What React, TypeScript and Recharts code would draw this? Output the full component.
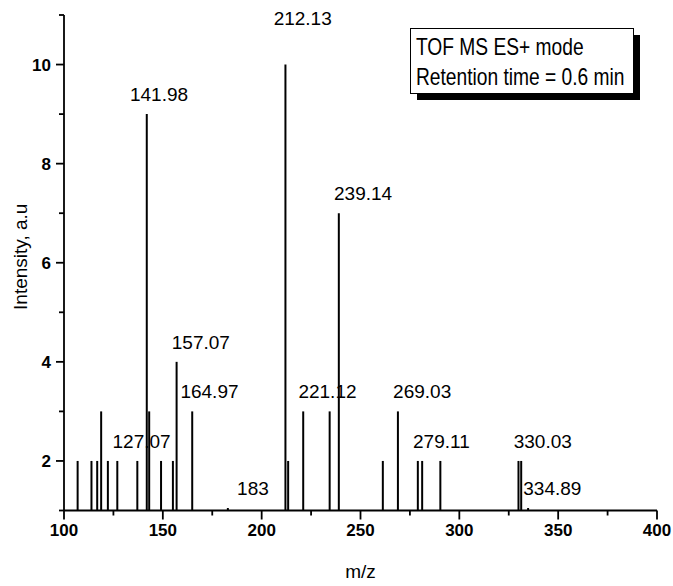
import { ComposedChart, Bar, Scatter, XAxis, YAxis } from 'recharts';

// Peak list: m/z and relative intensity (baseline of the plot is 1)
const PEAK_MZ = [
  107.0, 114.0, 116.9, 118.9, 122.3, 127.07, 137.2, 141.98, 143.2, 149.2,
  155.2, 157.07, 164.97, 183, 212.13, 213.5, 221.12, 234.5, 239.14, 261.4,
  269.03, 279.11, 281.3, 290.5, 330.03, 331.4, 334.89,
];
const PEAK_INTENSITY = [
  2, 2, 2, 3, 2, 2, 2, 9, 3, 2,
  2, 4, 3, 1.05, 10, 2, 3, 3, 7, 2,
  3, 2, 2, 2, 2, 2, 1.05,
];

// Annotated peaks
const LABEL_MZ = [127.07, 141.98, 157.07, 164.97, 183, 212.13, 221.12, 239.14, 269.03, 279.11, 330.03, 334.89];
const LABEL_TEXT = ['127.07', '141.98', '157.07', '164.97', '183', '212.13', '221.12', '239.14', '269.03', '279.11', '330.03', '334.89'];

const X_TICKS = [100, 125, 150, 175, 200, 225, 250, 275, 300, 325, 350, 375, 400];
const Y_TICKS = [1, 2, 3, 4, 5, 6, 7, 8, 9, 10, 11];

const INFO_LINES = ['TOF MS ES+ mode', 'Retention time = 0.6 min'];

const BASELINE = 1;

const peaks = PEAK_MZ.map((mz, i) => {
  const li = LABEL_MZ.indexOf(mz);
  return {
    mz,
    intensity: PEAK_INTENSITY[i],
    range: [BASELINE, PEAK_INTENSITY[i]],
    label: li >= 0 ? LABEL_TEXT[li] : null,
  };
});

const FONT = '"Liberation Sans", Arial, Helvetica, sans-serif';
const AXIS_STYLE = { stroke: '#000', strokeWidth: 1.8 };

// a few labels sit off the default spot so they don't collide
const LABEL_NUDGE: Record<string, [number, number]> = {
  '141.98': [-12, 0],
  '164.97': [-7, 0],
  '183': [14, 0],
  '212.13': [-7, -27],
};

function PeakLabel(props: any) {
  const { cx, cy, payload } = props;
  if (!payload || !payload.label) return <g />;
  const [dx, dy] = LABEL_NUDGE[payload.label] || [0, 0];
  return (
    <text x={cx - 5 + dx} y={cy - 13 + dy} fontSize={19} fontFamily={FONT} fill="#000" textAnchor="start">
      {payload.label}
    </text>
  );
}

function BottomTick({ x, y, payload }: any) {
  const major = payload.value % 50 === 0;
  return (
    <g>
      <line x1={x} y1={y} x2={x} y2={y + (major ? 9 : 5)} stroke="#000" strokeWidth={1.8} />
      {major && (
        <text x={x} y={y + 25} textAnchor="middle" fontSize={17} fontWeight="bold" fontFamily={FONT} fill="#000">
          {payload.value}
        </text>
      )}
    </g>
  );
}

function TopTick({ x, y }: any) {
  return <line x1={x} y1={y} x2={x} y2={y + 6} stroke="#000" strokeWidth={1.8} />;
}

function LeftTick({ x, y, payload }: any) {
  const v = payload.value;
  const major = v % 2 === 0;
  return (
    <g>
      <line x1={x} y1={y} x2={x - (major ? 8 : 5)} y2={y} stroke="#000" strokeWidth={1.8} />
      {major && (
        <text x={x - 13} y={y + 6} textAnchor="end" fontSize={17} fontWeight="bold" fontFamily={FONT} fill="#000">
          {v}
        </text>
      )}
    </g>
  );
}

function RightTick({ x, y, payload }: any) {
  const major = payload.value % 2 === 0;
  return <line x1={x} y1={y} x2={x - (major ? 8 : 5)} y2={y} stroke="#000" strokeWidth={1.8} />;
}

function XTitle({ viewBox }: any) {
  const cx = viewBox.x + viewBox.width / 2;
  return (
    <text x={cx} y={viewBox.y + 67} textAnchor="middle" fontSize={19} fontFamily={FONT} fill="#000">
      m/z
    </text>
  );
}

function YTitle({ viewBox }: any) {
  const x = viewBox.x + 20;
  const y = viewBox.y + viewBox.height / 2 - 6;
  return (
    <text
      x={x}
      y={y}
      transform={`rotate(-90, ${x}, ${y})`}
      textAnchor="middle"
      dominantBaseline="central"
      fontSize={19}
      fontFamily={FONT}
      fill="#000"
    >
      Intensity, a.u
    </text>
  );
}

export default function App() {
  return (
    <div style={{ position: 'fixed', left: 0, top: 0, width: 673, height: 586, overflow: 'hidden', background: '#fff' }}>
      <ComposedChart
        width={673}
        height={586}
        data={peaks}
        margin={{ top: 15, right: 16, bottom: 0, left: 0 }}
      >
        <XAxis
          xAxisId="bottom"
          dataKey="mz"
          type="number"
          domain={[100, 400]}
          ticks={X_TICKS}
          interval={0}
          tickLine={false}
          tickSize={0}
          tickMargin={0}
          tick={(p: any) => <BottomTick {...p} />}
          axisLine={AXIS_STYLE}
          height={75.5}
          label={<XTitle />}
        />
        <XAxis
          xAxisId="top"
          orientation="top"
          dataKey="mz"
          type="number"
          domain={[100, 400]}
          ticks={X_TICKS}
          interval={0}
          tickLine={false}
          tickSize={0}
          tickMargin={0}
          tick={(p: any) => <TopTick {...p} />}
          axisLine={AXIS_STYLE}
          height={0}
        />
        <YAxis
          yAxisId="left"
          type="number"
          domain={[1, 11]}
          ticks={Y_TICKS}
          interval={0}
          tickLine={false}
          tickSize={0}
          tickMargin={0}
          tick={(p: any) => <LeftTick {...p} />}
          axisLine={AXIS_STYLE}
          width={64}
          label={<YTitle />}
        />
        <YAxis
          yAxisId="right"
          orientation="right"
          type="number"
          domain={[1, 11]}
          ticks={Y_TICKS}
          interval={0}
          tickLine={false}
          tickSize={0}
          tickMargin={0}
          tick={(p: any) => <RightTick {...p} />}
          axisLine={AXIS_STYLE}
          width={0}
        />
        <Bar
          xAxisId="bottom"
          yAxisId="left"
          dataKey="range"
          barSize={2}
          fill="#000"
          isAnimationActive={false}
        />
        <Scatter
          xAxisId="bottom"
          yAxisId="left"
          dataKey="intensity"
          shape={PeakLabel}
          isAnimationActive={false}
        />
      </ComposedChart>

      {/* info box with drop shadow; condensed lettering via horizontal scale */}
      <svg width={673} height={586} style={{ position: 'absolute', left: 0, top: 0, pointerEvents: 'none' }}>
        <rect x={417} y={35} width={223} height={65} fill="#000" />
        <rect x={410.5} y={28.5} width={223} height={65} fill="#fff" stroke="#000" strokeWidth={1} />
        {INFO_LINES.map((line, i) => (
          <text
            key={line}
            transform={`translate(416, ${55 + i * 30}) scale(0.8, 1)`}
            fontSize={24}
            fontFamily={FONT}
            fill="#000"
          >
            {line}
          </text>
        ))}
      </svg>
    </div>
  );
}
